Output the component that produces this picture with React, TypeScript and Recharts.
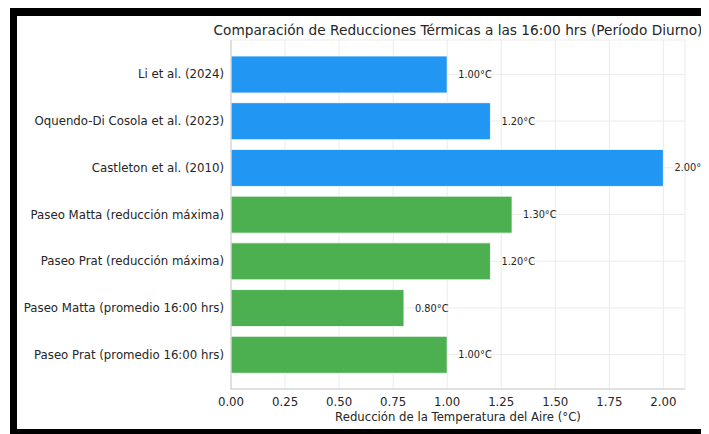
import React from 'react';
import { BarChart, Bar, XAxis, YAxis, CartesianGrid, Cell, LabelList } from 'recharts';

const categories = [
  'Li et al. (2024)',
  'Oquendo-Di Cosola et al. (2023)',
  'Castleton et al. (2010)',
  'Paseo Matta (reducción máxima)',
  'Paseo Prat (reducción máxima)',
  'Paseo Matta (promedio 16:00 hrs)',
  'Paseo Prat (promedio 16:00 hrs)',
];
const values = [1.0, 1.2, 2.0, 1.3, 1.2, 0.8, 1.0];
const groups = ['lit', 'lit', 'lit', 'site', 'site', 'site', 'site'];
const xTicks = [0, 0.25, 0.5, 0.75, 1.0, 1.25, 1.5, 1.75, 2.0];

const colorFor: Record<string, string> = { lit: '#2196F3', site: '#4CAF50' };

const data = categories.map((name, i) => ({ name, value: values[i], group: groups[i] }));

const FONT = '"DejaVu Sans", sans-serif';

const ValueLabel = (props: any) => {
  const { x, y, width, height, value } = props;
  return (
    <text
      x={x + width + 11}
      y={y + height / 2}
      dy="0.35em"
      fontSize={9.8}
      fontFamily={FONT}
      fill="#262626"
      textAnchor="start"
    >
      {`${Number(value).toFixed(2)}°C`}
    </text>
  );
};

const YTick = (props: any) => {
  const { y, payload } = props;
  return (
    <text
      x={207}
      y={y}
      dy="0.35em"
      fontSize={11.75}
      fontFamily={FONT}
      fill="#262626"
      textAnchor="end"
    >
      {payload.value}
    </text>
  );
};

export default function App() {
  return (
    <div
      style={{
        position: 'relative',
        width: 699,
        height: 426,
        marginLeft: 2,
        background: '#000',
        overflow: 'hidden',
      }}
    >
      <div
        style={{
          position: 'absolute',
          left: 7,
          top: 8,
          width: 700,
          height: 413,
          background: '#fff',
        }}
      >
        <div
          style={{
            position: 'absolute',
            left: 141,
            width: 600,
            top: 5,
            textAlign: 'center',
            fontFamily: FONT,
            fontSize: 13.7,
            color: '#262626',
            whiteSpace: 'nowrap',
            lineHeight: '18px',
          }}
        >
          Comparación de Reducciones Térmicas a las 16:00 hrs (Período Diurno)
        </div>
        <BarChart
          width={700}
          height={413}
          data={data}
          layout="vertical"
          margin={{ top: 24, right: 32, bottom: 0, left: 0 }}
          barSize={37}
        >
          <CartesianGrid stroke="#ebebeb" strokeWidth={1} />
          <XAxis
            type="number"
            dataKey="value"
            domain={[0, 2.1]}
            ticks={xTicks}
            tickFormatter={(v: number) => v.toFixed(2)}
            tick={{ fontSize: 11.75, fontFamily: FONT, fill: '#262626' }}
            tickLine={false}
            axisLine={{ stroke: '#cccccc' }}
            tickMargin={3}
            height={40}
            allowDataOverflow
            label={{
              value: 'Reducción de la Temperatura del Aire (°C)',
              position: 'insideBottom',
              offset: 8,
              fontSize: 11.7,
              fontFamily: FONT,
              fill: '#262626',
            }}
          />
          <XAxis
            xAxisId="top"
            orientation="top"
            type="number"
            domain={[0, 2.1]}
            tick={false}
            tickLine={false}
            axisLine={{ stroke: '#cccccc' }}
            height={0}
          />
          <YAxis
            type="category"
            dataKey="name"
            width={214}
            padding={{ top: 11, bottom: 11 }}
            tick={<YTick />}
            tickLine={false}
            axisLine={{ stroke: '#cccccc' }}
            interval={0}
          />
          <YAxis
            yAxisId="right"
            orientation="right"
            type="category"
            dataKey="name"
            width={0}
            tick={false}
            tickLine={false}
            axisLine={{ stroke: '#cccccc' }}
          />
          <Bar dataKey="value" isAnimationActive={false} stroke="#ffffff" strokeWidth={0.8}>
            {data.map((d, i) => (
              <Cell key={i} fill={colorFor[d.group]} />
            ))}
            <LabelList dataKey="value" content={ValueLabel} />
          </Bar>
        </BarChart>
      </div>
    </div>
  );
}
